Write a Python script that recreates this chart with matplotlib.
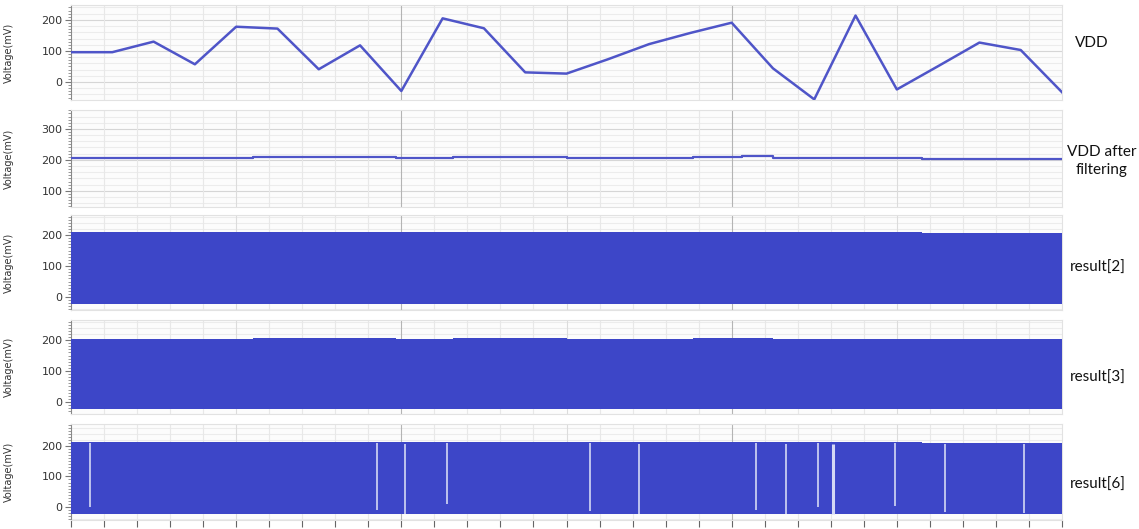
import matplotlib
matplotlib.use('Agg')
import matplotlib.pyplot as plt
import numpy as np

# time axis in arbitrary units (30 minor divisions across the plot)
t_end = 30.0

# VDD samples, one every 1.25 units
vdd_t = [i * 1.25 for i in range(25)]
vdd_mv = [96, 96, 130, 57, 178, 172, 41, 118, -29, 205, 173, 31, 27,
          73, 122, 158, 191, 44, -56, 214, -24, 51, 127, 103, -33]

# filtered VDD: step levels between breakpoints
filt_t = [0, 5.51, 9.84, 11.56, 15.01, 18.83, 20.31, 21.25, 25.76, 30]
filt_mv = [206, 209, 205, 209, 205, 209, 212, 206, 203, 203]

# upper envelope of the pulse trains (same breakpoints)
res2_top = [209, 210, 209, 211, 209, 210, 211, 209, 208, 208]
res3_top = [205, 206, 205, 207, 205, 206, 207, 205, 204, 204]
res6_top = [212, 213, 212, 214, 212, 213, 214, 212, 210, 210]
res_bottom = -23

# missing pulses in result[6]
gap_t = [0.57, 9.25, 10.1, 11.37, 15.7, 17.2, 20.74, 21.64, 22.6, 23.07, 24.94, 26.46, 28.85]
gap_lo = [0, -10, -23, 10, -15, -23, -10, -23, 0, -23, 2, -18, -20]
gap_hi = [210, 210, 206, 210, 210, 205, 210, 206, 209, 206, 209, 208, 206]
gap_w = [1.2, 1.2, 1.2, 1.2, 1.2, 1.2, 1.2, 1.2, 1.2, 2.2, 1.2, 1.2, 1.2]

labels = ['VDD', 'VDD after\nfiltering', 'result[2]', 'result[3]', 'result[6]']
label_xy = [(1075, 43), (1102, 161), (1070, 268), (1070, 378), (1070, 485)]

line_c = '#4f55c8'
fill_c = '#3d46c8'

W, H = 1139, 529
fig = plt.figure(figsize=(W / 100, H / 100), dpi=100)

# (top px, bottom px, ylim, major yticks)
panels = [(5, 100, (-58, 248), [0, 100, 200]),
          (110, 207, (48, 361), [100, 200, 300]),
          (215, 310, (-42, 265), [0, 100, 200]),
          (320, 414, (-39, 265), [0, 100, 200]),
          (424, 520, (-43, 272), [0, 100, 200])]
x0, x1 = 71, 1062

axes = []
for k, (top, bot, ylim, yt) in enumerate(panels):
    ax = fig.add_axes([x0 / W, (H - bot) / H, (x1 - x0) / W, (bot - top) / H])
    ax.set_facecolor('#fcfcfc')
    ax.set_xlim(0, t_end)
    ax.set_ylim(*ylim)
    # grid
    for v in np.arange(ylim[0] - ylim[0] % 20, ylim[1], 20):
        c = '#d6d6d6' if v % 100 == 0 else '#ececec'
        ax.axhline(v, color=c, lw=0.8, zorder=0)
    for v in range(1, 30):
        if v % 10 == 0:
            c = '#b4b4b4'
        elif v % 5 == 0:
            c = '#dcdcdc'
        else:
            c = '#e8e8e8'
        ax.axvline(v, color=c, lw=0.8, zorder=0)
    ax.set_yticks(yt)
    ax.set_yticks(np.arange(ylim[0] - ylim[0] % 10 + 10, ylim[1], 10), minor=True)
    ax.tick_params(axis='y', which='major', length=4, width=0.8, color='#777777',
                   labelsize=8, labelcolor='#333333', pad=2)
    ax.tick_params(axis='y', which='minor', length=2, width=0.6, color='#888888')
    ax.set_ylabel('Voltage(mV)', fontsize=7, color='#333333', labelpad=4)
    ax.yaxis.set_label_coords(-0.058, 0.5)
    for s in ['top', 'right', 'bottom']:
        ax.spines[s].set_color('#e2e2e2')
        ax.spines[s].set_linewidth(0.8)
    ax.spines['left'].set_color('#888888')
    ax.spines['left'].set_linewidth(0.8)
    ax.set_xticks(np.arange(0, 31, 1))
    ax.set_xticklabels([])
    if k < 4:
        ax.tick_params(axis='x', length=0)
    else:
        ax.tick_params(axis='x', length=5, width=0.8, color='#666666')
    xl, yl = label_xy[k]
    fig.text(xl / W, (H - yl) / H, labels[k], fontsize=11,
             family=['Lato', 'DejaVu Sans'], color='#111111',
             ha='center' if k == 1 else 'left', va='center', linespacing=1.35)
    axes.append(ax)

axes[0].plot(vdd_t, vdd_mv, color=line_c, lw=1.8, zorder=3)
axes[1].step(filt_t, filt_mv, where='post', color=line_c, lw=1.6, zorder=3)

for ax, top in zip(axes[2:], [res2_top, res3_top, res6_top]):
    ax.fill_between(filt_t, res_bottom, top, step='post', color=fill_c, lw=0, zorder=3)

for t, lo, hi, w in zip(gap_t, gap_lo, gap_hi, gap_w):
    axes[4].plot([t, t], [lo, hi], color='#d4d8f4', lw=w, zorder=4, solid_capstyle='butt')

fig.savefig('out.png', dpi=100, facecolor='white')
